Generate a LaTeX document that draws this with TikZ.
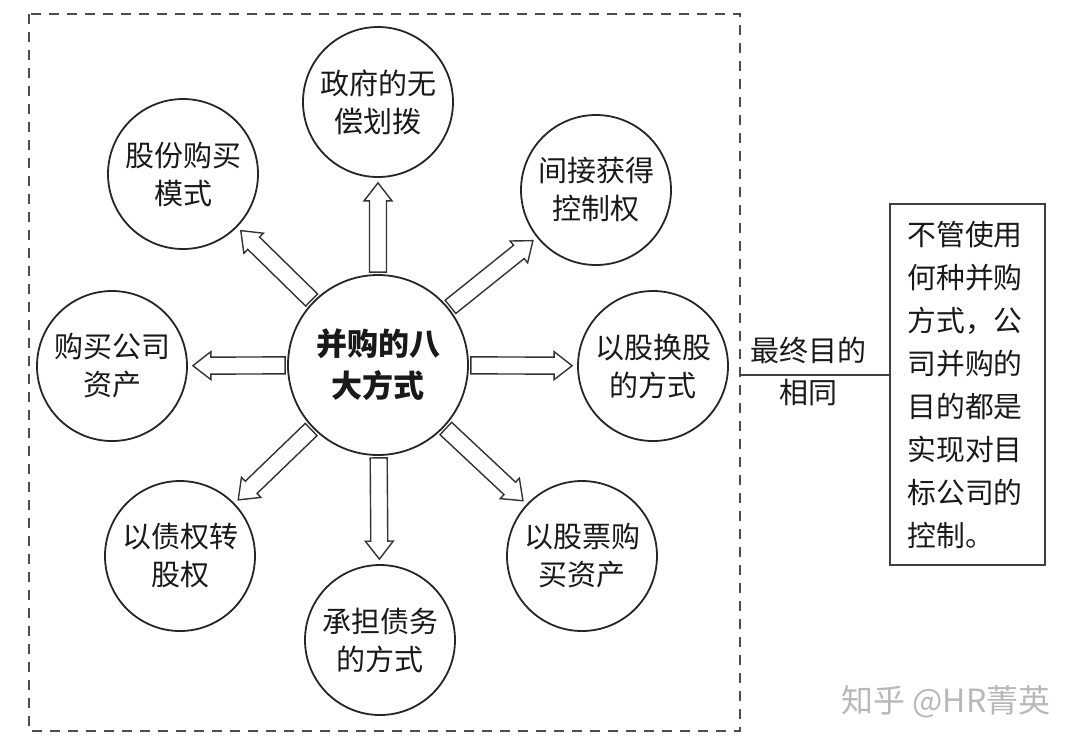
\documentclass[tikz,border=0pt]{standalone}
\usepackage{fontspec}
\setmainfont{Noto Sans CJK SC}
\usetikzlibrary{calc,positioning}

\tikzset{
  way/.style={circle, draw=black!85, line width=0.9pt, minimum size=75pt, inner sep=0pt,
    align=center, text=black!90, font=\fontsize{14.5}{19}\selectfont},
  hub/.style={way, minimum size=90pt, font=\fontsize{15.5}{21}\selectfont\bfseries},
  blockarrow/.style={draw=black!80, line width=0.7pt, fill=white, line join=miter},
  frame/.style={draw=black!70, line width=0.8pt, dash pattern=on 5pt off 4pt},
  note/.style={draw=black!75, line width=0.8pt, minimum width=77.5pt, minimum height=180.5pt,
    text width=60pt, align=left, inner sep=0pt, text=black!90, font=\fontsize{14.4}{21.5}\selectfont},
  link/.style={draw=black!75, line width=0.8pt},
}

% hollow arrow from the border of #1 to the border of #2
\newcommand{\blockarrow}[2]{%
  \path (#1) -- (#2) coordinate[pos=0] (ta) coordinate[pos=1] (tb);
  \coordinate (t0) at ($(ta)!1pt!(tb)$);
  \coordinate (t1) at ($(tb)!2.5pt!(ta)$);
  \coordinate (hb) at ($(t1)!9pt!(t0)$);
  \draw[blockarrow] ($(t0)!4.25pt!90:(t1)$) -- ($(hb)!4.25pt!-90:(t0)$)
    -- ($(hb)!7pt!-90:(t0)$) -- (t1) -- ($(hb)!7pt!90:(t0)$)
    -- ($(hb)!4.25pt!90:(t0)$) -- ($(t0)!4.25pt!-90:(t1)$) -- cycle;
}

\begin{document}
\begin{tikzpicture}[x=0.5pt, y=-0.5pt]
    \useasboundingbox (0,0) rectangle (1080,746);

    % Dashed frame
    \draw[frame] (29,14) rectangle (740,731);

    % Centre and the eight ways
    \node[hub] (mid) at (378,365) {并购的八\\大方式};
    \node[way] (gov) at (378,102) {政府的无\\偿划拨};
    \node[way] (share) at (183,174) {股份购买\\模式};
    \node[way] (indirect) at (596,190) {间接获得\\控制权};
    \node[way] (asset) at (112,366) {购买公司\\资产};
    \node[way] (swap) at (653,366) {以股换股\\的方式};
    \node[way] (debt) at (180,556) {以债权转\\股权};
    \node[way] (bond) at (380,640) {承担债务\\的方式};
    \node[way] (stock) at (582,556) {以股票购\\买资产};

    % Hollow arrows
    \foreach \o in {gov,share,indirect,asset,swap,debt,bond,stock}
        \blockarrow{mid}{\o};

    % Common goal
    \node[note] (note) at (967.5,384.5) {不管使用\\何种并购\\方式，公\\司并购的\\目的都是\\实现对目\\标公司的\\控制。};
    \coordinate (fr) at (740,375);
    \draw[link] (fr) -- (note.west |- fr);
    \node[align=center, text=black!90, font=\fontsize{14.5}{21}\selectfont] (goal) at (808,371) {最终目的\\相同};

    % Watermark
    \node[text=black!28, font=\fontsize{16}{16}\selectfont] (mark) at (946,702) {知乎 @HR菁英};
\end{tikzpicture}
\end{document}
